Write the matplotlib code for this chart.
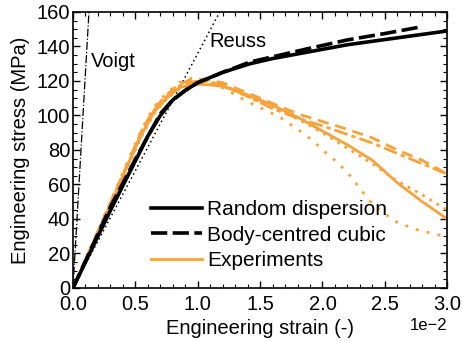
import matplotlib
matplotlib.use("Agg")
import matplotlib.pyplot as plt
from matplotlib.ticker import AutoMinorLocator, ScalarFormatter
import numpy as np

plt.rcParams['font.family'] = ['Liberation Sans', 'DejaVu Sans']
plt.rcParams['font.size'] = 14.5

# Elastic bounds (modulus in MPa)
voigt_E = 125000.0
reuss_E = 13600.0
bound_strain = [0.0, 0.03]

# Simulations
sim_strain = [0.0, 0.003, 0.006, 0.007, 0.008, 0.009, 0.010, 0.012, 0.0142, 0.016, 0.019, 0.022, 0.026, 0.030]
rand_stress = [0.0, 45, 88, 100, 109, 114.5, 119, 125, 130, 133, 137, 141, 145, 149]
bcc_strain = [0.0, 0.003, 0.0051, 0.007, 0.008, 0.009, 0.010, 0.012, 0.0142, 0.016, 0.019, 0.022, 0.025, 0.028]
bcc_stress = [0.0, 47, 76, 101, 109, 114.5, 119, 125, 131, 134, 139, 143.8, 147.5, 151.5]

# Experiments
exp_rise_strain = [0.0, 0.002, 0.004, 0.0055, 0.0065, 0.0075, 0.0085, 0.0095, 0.0105]
exp1_strain = exp_rise_strain + [0.012, 0.014, 0.016, 0.018, 0.020, 0.022, 0.024, 0.026, 0.028, 0.030]
exp1_stress = [0, 33, 66, 91, 104, 112, 118, 121, 121, 119, 113, 107, 101, 96.5, 92, 87, 80, 74, 66]
exp2_stress = [0, 32, 65, 90, 103, 111, 117, 119.5, 120, 118, 111, 104, 98.5, 94, 89, 84, 78, 72, 66]
exp3_stress = [0, 32, 65, 89, 102, 110, 116, 118, 118, 117, 112, 106, 99, 91, 83, 74, 61, 50, 40]
exp4_stress = [0, 31, 64, 88, 101, 109.5, 115, 118, 118.5, 117, 111, 105, 98, 90, 81, 72, 62, 54, 45]
exp5_strain = exp_rise_strain + [0.012, 0.014, 0.0166, 0.0182, 0.0193, 0.020, 0.021, 0.022, 0.0226, 0.0235, 0.0241, 0.025, 0.026, 0.0275, 0.0286, 0.030]
exp5_stress = [0, 33, 67, 92, 105, 113, 119, 121.5, 120, 116, 108, 99, 91, 85, 80, 74, 67, 61.5, 53, 48, 43, 38, 34, 32, 29.5]

orange = '#F7A23A'

fig = plt.figure(figsize=(4.62, 3.42), dpi=100)
ax = fig.add_axes([0.158, 0.158, 0.81, 0.807])

bs = np.array(bound_strain)
ax.plot(bs, voigt_E * bs, color='black', lw=0.9, ls='-.')
ax.plot(bs, reuss_E * bs, color='black', lw=1.1, ls=(0, (1, 2)))

ax.plot(exp1_strain, exp1_stress, color=orange, lw=2, ls=(0, (4, 2.5)))
ax.plot(exp1_strain, exp2_stress, color=orange, lw=2, ls=(0, (5, 1.5, 1.5, 1.5)))
ax.plot(exp1_strain, exp3_stress, color=orange, lw=2, ls='-', label='Experiments')
ax.plot(exp1_strain, exp4_stress, color=orange, lw=2, ls=(0, (1, 2)))
ax.plot(exp5_strain, exp5_stress, color=orange, lw=2, ls=(0, (1, 3)))

ax.plot(sim_strain, rand_stress, color='black', lw=2.6, ls='-', label='Random dispersion')
ax.plot(bcc_strain, bcc_stress, color='black', lw=2.6, ls=(0, (4.5, 1.5)), label='Body-centred cubic')

ax.text(0.00145, 131, 'Voigt', fontsize=14.5, va='center', ha='left')
ax.text(0.0109, 143, 'Reuss', fontsize=14.5, va='center', ha='left')

ax.set_xlim(0, 0.03)
ax.set_ylim(0, 160)
ax.set_xticks(np.arange(0, 0.0301, 0.005))
ax.set_yticks(np.arange(0, 161, 20))
fmt = ScalarFormatter(useMathText=False)
fmt.set_powerlimits((-1, 1))
ax.xaxis.set_major_formatter(fmt)
ax.xaxis.get_offset_text().set_fontsize(12)
ax.xaxis.set_minor_locator(AutoMinorLocator(5))
ax.yaxis.set_minor_locator(AutoMinorLocator(4))
ax.tick_params(which='both', direction='in', top=True, right=True)
ax.tick_params(which='major', length=5, width=1)
ax.tick_params(axis='x', which='major', pad=5)
ax.tick_params(axis='y', which='major', pad=2)
ax.tick_params(which='minor', length=3, width=0.8)
for s in ax.spines.values():
    s.set_linewidth(1.2)

ax.set_xlabel('Engineering strain (-)', labelpad=4)
ax.set_ylabel('Engineering stress (MPa)', labelpad=5)

h, l = ax.get_legend_handles_labels()
order = [l.index('Random dispersion'), l.index('Body-centred cubic'), l.index('Experiments')]
ax.legend([h[i] for i in order], [l[i] for i in order], frameon=False,
          loc='upper left', bbox_to_anchor=(0.158, 0.385), handlelength=2.45,
          handletextpad=0.25, labelspacing=0.3, fontsize=15)

fig.savefig('out.png', dpi=100)
